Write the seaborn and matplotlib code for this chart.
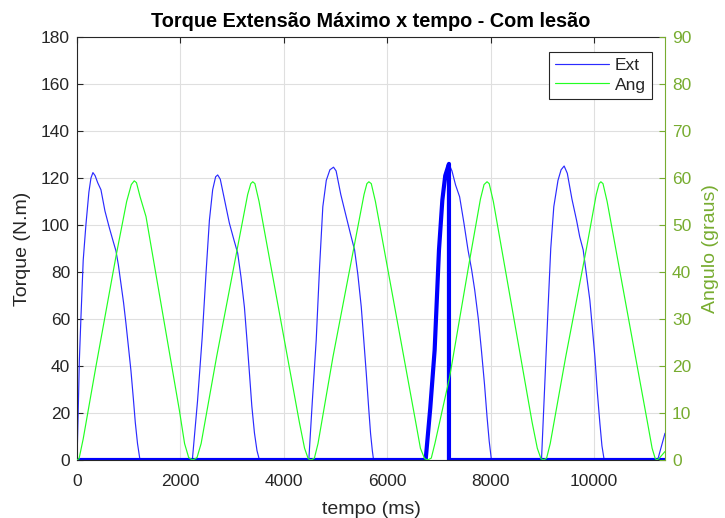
import matplotlib
matplotlib.use("Agg")
import matplotlib.pyplot as plt
import seaborn as sns
import pandas as pd

# Extension torque (N.m) over time (ms)
time_ext = [0, 23, 45, 75, 120, 172, 230, 270, 308, 350, 400, 463, 540, 623, 700, 753, 800, 850, 900, 947,
            1000, 1043, 1090, 1127, 1170, 1218,
            2230, 2330, 2420, 2496, 2560, 2623, 2680, 2720, 2770, 2850, 2946, 3030, 3107, 3170, 3237, 3290,
            3334, 3380, 3431, 3480, 3527,
            4482, 4550, 4625, 4690, 4753, 4820, 4890, 4960, 5010, 5100, 5206, 5290, 5367, 5430, 5496, 5545,
            5593, 5640, 5676, 5710, 5734,
            6741, 6830, 6915, 6999, 7064, 7120, 7192, 7250, 7320, 7398, 7480, 7560, 7630, 7690, 7760, 7819,
            7880, 7928, 7970, 8013,
            8981, 9040, 9109, 9160, 9219, 9300, 9360, 9419, 9480, 9570, 9659, 9720, 9787, 9850, 9916, 9965,
            10013, 10060, 10110, 10150, 10193,
            11227, 11369]
torque_ext = [0, 20, 42, 60, 85, 100, 114, 120, 122.3, 121, 118, 115, 106, 99, 93, 89, 83, 75, 67, 58,
              47, 38, 26, 16, 7, 0,
              0, 25, 52, 80, 102, 115, 120.5, 121.3, 119.5, 111, 100.8, 94, 88, 78, 65, 50,
              37, 23, 11.5, 4, 0,
              0, 25, 51, 82, 107.8, 119, 123.5, 124.6, 123, 113, 103.5, 96, 89.4, 79, 65.2, 51,
              36.9, 22, 11.3, 4, 0,
              0, 22, 46.8, 89.4, 110.6, 121, 126, 123, 117, 112, 101, 89.4, 81, 72.3, 60, 46.8,
              32, 18.4, 8, 0,
              0, 30, 65.2, 90, 107.8, 119, 123.5, 125.1, 122, 111, 102, 95, 89.4, 79, 68, 56,
              44, 29, 15.6, 6, 0,
              0, 11.4]

# Rising stretch up to the maximum extension torque
time_peak = [0, 6741, 6830, 6915, 6999, 7064, 7120, 7192, 7192, 11369]
torque_peak = [0, 0, 22, 46.8, 89.4, 110.6, 121, 126, 0, 0]

# Knee angle (graus) over time (ms)
time_ang = [0, 40, 120, 366, 753, 960, 1050, 1107, 1150, 1220, 1334, 1979, 2080, 2160, 2240, 2320, 2400,
            2700, 3100, 3300, 3360, 3398, 3440, 3520, 4300, 4400, 4470, 4525, 4590, 4660,
            4950, 5350, 5550, 5605, 5643, 5690, 5770, 6550, 6640, 6720, 6780, 6850, 6920,
            7206, 7593, 7800, 7870, 7928, 7970, 8050, 8800, 8900, 8970, 9020, 9080, 9150,
            9450, 9850, 10040, 10095, 10129, 10170, 10250, 11030, 11120, 11180, 11215, 11260, 11369]
angle_ang = [0, 0.3, 4.5, 19.9, 43.3, 55, 58.6, 59.4, 59, 56, 51.8, 10.6, 3.5, 0.5, 0, 0.5, 3.5,
             22, 45, 56.5, 58.8, 59.2, 58.8, 55, 8, 2.5, 0.3, 0, 0.4, 3.5,
             22, 45, 56.5, 58.8, 59.2, 58.8, 55, 8, 2.5, 0.3, 0, 0.4, 3.5,
             17.7, 42.6, 55.5, 58.6, 59.2, 58.8, 55, 8, 2.5, 0.3, 0, 0.4, 3.5,
             22, 45, 56.5, 58.8, 59.2, 58.8, 55, 8, 2.5, 0.3, 0, 0.4, 1.8]

x_ticks = [0, 2000, 4000, 6000, 8000, 10000]
torque_ticks = list(range(0, 181, 20))
angle_ticks = list(range(0, 91, 10))

BLUE = "#0000FF"
THIN_BLUE = "#2b2bff"
GREEN = "#22ff22"
OLIVE = "#77AC30"
DARK = "#262626"

sns.set_style("white")
plt.rcParams["font.family"] = ["Liberation Sans", "DejaVu Sans"]

fig = plt.figure(figsize=(7.25, 5.18), dpi=100)
ax = fig.add_axes([77 / 725, 58 / 518, 588 / 725, 423 / 518])
ax2 = ax.twinx()

ext_df = pd.DataFrame({"tempo": time_ext, "torque": torque_ext})
peak_df = pd.DataFrame({"tempo": time_peak, "torque": torque_peak})
ang_df = pd.DataFrame({"tempo": time_ang, "angulo": angle_ang})

sns.lineplot(data=ext_df, x="tempo", y="torque", ax=ax, color=THIN_BLUE, lw=0.85,
             estimator=None, sort=False, legend=False)
sns.lineplot(data=peak_df, x="tempo", y="torque", ax=ax, color=BLUE, lw=3.0,
             estimator=None, sort=False, legend=False)
sns.lineplot(data=ang_df, x="tempo", y="angulo", ax=ax2, color=GREEN, lw=0.85,
             estimator=None, sort=False, legend=False)

ax.set_xlim(0, 11369)
ax.set_ylim(0, 180)
ax2.set_ylim(0, 90)
ax.set_xticks(x_ticks)
ax.set_yticks(torque_ticks)
ax2.set_yticks(angle_ticks)

ax.grid(True, color="#dfdfdf", lw=0.8)
ax.set_axisbelow(True)

ax.tick_params(axis="both", direction="in", length=4, width=0.8, colors=DARK,
               labelsize=12.5, top=True, right=False, pad=5)
ax.tick_params(axis="x", pad=10)
ax2.tick_params(axis="y", direction="in", length=4, width=0.8, colors=OLIVE,
                labelsize=12.5, pad=5)

for side in ["left", "bottom", "top"]:
    ax.spines[side].set_color(DARK)
    ax.spines[side].set_linewidth(0.8)
ax.spines["right"].set_visible(False)
for side in ["left", "bottom", "top"]:
    ax2.spines[side].set_visible(False)
ax2.spines["right"].set_color(OLIVE)
ax2.spines["right"].set_linewidth(0.8)

ax.set_xlabel("tempo (ms)", fontsize=14, color=DARK, labelpad=9)
ax.set_ylabel("Torque (N.m)", fontsize=14, color=DARK, labelpad=7)
ax2.set_ylabel("Angulo (graus)", fontsize=14, color=OLIVE, rotation=90, labelpad=8)
ax.set_title("Torque Extensão Máximo x tempo - Com lesão", fontsize=14.3,
             fontweight="bold", color="black", pad=7)

ext_line = ax.lines[0]
ang_line = ax2.lines[0]
leg = ax2.legend([ext_line, ang_line], ["Ext", "Ang"], loc="upper right",
                 bbox_to_anchor=(0.978, 0.965), fontsize=12.5, frameon=True,
                 fancybox=False, framealpha=1, edgecolor=DARK, borderpad=0.35,
                 handlelength=3.1, handletextpad=0.35, labelspacing=0.25,
                 borderaxespad=0)
leg.get_frame().set_linewidth(0.8)

fig.savefig("out.png", dpi=100)
